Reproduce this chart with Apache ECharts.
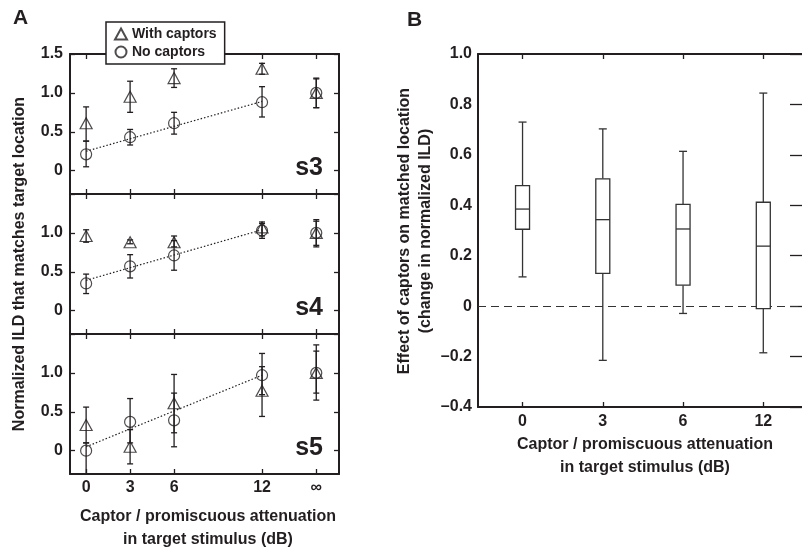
<!DOCTYPE html>
<html>
<head>
<meta charset="utf-8">
<script src="https://cdn.jsdelivr.net/npm/echarts@6/dist/echarts.min.js"></script>
<style>
  html, body { margin: 0; padding: 0; background: #fff; }
  #main { width: 802px; height: 550px; }
</style>
</head>
<body>
<div id="main"></div>
<script>
// panel A: attenuation (dB), infinity is drawn at 15.7
const attenValues = [0, 3, 6, 12, 15.7]
const attenLabels = ['0', '3', '6', '12', '∞']
const ildTicks = [0, 0.5, 1, 1.5]

// [mean, low, high] per attenuation
const s3With = [[0.61, 0.38, 0.82], [0.95, 0.75, 1.15], [1.19, 1.07, 1.31], [1.31, 1.24, 1.38], [1.0, 0.81, 1.19]]
const s3No = [[0.21, 0.05, 0.38], [0.43, 0.33, 0.53], [0.61, 0.47, 0.75], [0.88, 0.69, 1.08], [1.0, 0.81, 1.18]]
const s3Fit = [0.25, 0.89]

const s4With = [[0.96, 0.88, 1.04], [0.88, 0.86, 0.91], [0.88, 0.82, 0.96], [1.07, 0.96, 1.14], [1.0, 0.82, 1.17]]
const s4No = [[0.35, 0.22, 0.47], [0.57, 0.42, 0.72], [0.71, 0.52, 0.9], [1.03, 0.93, 1.12], [1.0, 0.84, 1.15]]
const s4Fit = [0.39, 1.04]

const s5With = [[0.33, 0.1, 0.56], [0.05, -0.17, 0.27], [0.61, 0.23, 0.98], [0.77, 0.44, 1.08], [1.0, 0.74, 1.28]]
const s5No = [[0.0, -0.4, 0.1], [0.37, 0.1, 0.67], [0.39, 0.05, 0.74], [0.97, 0.72, 1.25], [1.0, 0.65, 1.36]]
const s5Fit = [0.05, 0.97]

const fitX = [0, 12]

// panel B: [low whisker, q1, median, q3, high whisker]
const boxCats = ['0', '3', '6', '12']
const boxStats = [
  [0.116, 0.305, 0.385, 0.478, 0.73],
  [-0.215, 0.13, 0.343, 0.505, 0.703],
  [-0.029, 0.083, 0.306, 0.404, 0.614],
  [-0.185, -0.01, 0.238, 0.412, 0.845]
]
const effectTicks = [-0.4, -0.2, 0, 0.2, 0.4, 0.6, 0.8, 1.0]

const ink = '#231f20'
const fontFam = '"Liberation Sans", Arial, Helvetica, sans-serif'
const lbl = { color: ink, fontSize: 16, fontWeight: 'bold', fontFamily: fontFam }

const chart = echarts.init(document.getElementById('main'))

const subjects = [
  { name: 's3', w: s3With, n: s3No, fit: s3Fit, top: 54 },
  { name: 's4', w: s4With, n: s4No, fit: s4Fit, top: 194 },
  { name: 's5', w: s5With, n: s5No, fit: s5Fit, top: 334 }
]

const grids = []
const xAxes = []
const yAxes = []
const series = []
const axLine = { show: true, onZero: false, lineStyle: { color: ink, width: 2 } }
const tick = (vals) => ({ show: true, inside: true, length: 5, customValues: vals, lineStyle: { color: ink, width: 1.3 } })

function errRender(params, api) {
  const x = api.value(0)
  const lo = api.coord([x, api.value(2)])
  const hi = api.coord([x, api.value(3)])
  const cap = 3
  const st = { stroke: ink, lineWidth: 1.3 }
  return {
    type: 'group',
    children: [
      { type: 'line', shape: { x1: lo[0], y1: lo[1], x2: hi[0], y2: hi[1] }, style: st },
      { type: 'line', shape: { x1: lo[0] - cap, y1: lo[1], x2: lo[0] + cap, y2: lo[1] }, style: st },
      { type: 'line', shape: { x1: hi[0] - cap, y1: hi[1], x2: hi[0] + cap, y2: hi[1] }, style: st }
    ]
  }
}

subjects.forEach((s, i) => {
  const last = i === subjects.length - 1
  grids.push({ left: 70, top: s.top, width: 269, height: 140, outerBoundsMode: 'none' })
  xAxes.push({
    type: 'value', gridIndex: i, position: 'bottom', min: -1.1, max: 17.25,
    axisLine: axLine, axisTick: tick(attenValues), splitLine: { show: false },
    axisLabel: {
      show: last, customValues: attenValues, margin: 6, ...lbl,
      formatter: (v) => attenLabels[attenValues.indexOf(v)]
    }
  })
  xAxes.push({
    type: 'value', gridIndex: i, position: 'top', min: -1.1, max: 17.25,
    axisLine: axLine, axisTick: tick(attenValues), axisLabel: { show: false }, splitLine: { show: false }
  })
  yAxes.push({
    type: 'value', gridIndex: i, position: 'left', min: -0.3, max: 1.5,
    axisLine: axLine, axisTick: tick(ildTicks), splitLine: { show: false },
    axisLabel: {
      customValues: i === 0 ? ildTicks : ildTicks.slice(0, 3), margin: 7, ...lbl,
      formatter: (v) => (v === 0 ? '0' : v.toFixed(1))
    }
  })
  yAxes.push({
    type: 'value', gridIndex: i, position: 'right', min: -0.3, max: 1.5,
    axisLine: axLine, axisTick: tick(ildTicks), axisLabel: { show: false }, splitLine: { show: false }
  })

  series.push({
    type: 'line', xAxisIndex: 2 * i, yAxisIndex: 2 * i, silent: true,
    data: fitX.map((x, k) => [x, s.fit[k]]), symbol: 'none',
    lineStyle: { color: ink, width: 1.2, type: [1.5, 2] }
  })
  ;[s.w, s.n].forEach((arr) => {
    series.push({
      type: 'custom', xAxisIndex: 2 * i, yAxisIndex: 2 * i, clip: true, silent: true,
      renderItem: errRender,
      data: arr.map((d, k) => [attenValues[k], d[0], d[1], d[2]])
    })
  })
  series.push({
    name: 'With captors', type: 'scatter', xAxisIndex: 2 * i, yAxisIndex: 2 * i,
    symbol: 'triangle', symbolSize: [12, 11],
    itemStyle: { color: 'rgba(0,0,0,0)', borderColor: ink, borderWidth: 1.2 },
    data: s.w.map((d, k) => [attenValues[k], d[0]])
  })
  series.push({
    name: 'No captors', type: 'scatter', xAxisIndex: 2 * i, yAxisIndex: 2 * i,
    symbol: 'circle', symbolSize: 11,
    itemStyle: { color: 'rgba(0,0,0,0)', borderColor: ink, borderWidth: 1.2 },
    data: s.n.map((d, k) => [attenValues[k], d[0]])
  })
})

// panel B
const gb = grids.length
grids.push({ left: 478, top: 54, width: 330, height: 353, outerBoundsMode: 'none' })
const boxIdx = boxCats.map((c, i) => i)
xAxes.push({
  type: 'value', gridIndex: gb, position: 'bottom', min: -0.555, max: 3.557,
  axisLine: axLine, axisTick: tick(boxIdx), splitLine: { show: false },
  axisLabel: { customValues: boxIdx, margin: 7, ...lbl, formatter: (v) => boxCats[v] }
})
xAxes.push({
  type: 'value', gridIndex: gb, position: 'top', min: -0.555, max: 3.557,
  axisLine: axLine, axisTick: tick(boxIdx), axisLabel: { show: false }, splitLine: { show: false }
})
yAxes.push({
  type: 'value', gridIndex: gb, position: 'left', min: -0.4, max: 1.0,
  axisLine: axLine, axisTick: { show: false }, splitLine: { show: false },
  axisLabel: {
    customValues: effectTicks, margin: 6, ...lbl,
    formatter: (v) => (v === 0 ? '0' : (v < 0 ? '\u2013' + Math.abs(v).toFixed(1) : v.toFixed(1)))
  }
})
yAxes.push({
  type: 'value', gridIndex: gb, position: 'right', min: -0.4, max: 1.0,
  axisLine: axLine, axisTick: { ...tick(effectTicks), length: 18 }, axisLabel: { show: false }, splitLine: { show: false }
})

series.push({
  type: 'custom', xAxisIndex: 2 * gb, yAxisIndex: 2 * gb, silent: true,
  data: boxStats.map((d, i) => [i, ...d]),
  renderItem: (params, api) => {
    const x = api.value(0)
    const p = [1, 2, 3, 4, 5].map((k) => api.coord([x, api.value(k)]))
    const cx = p[0][0]
    const hw = 7, cw = 4
    const st = { stroke: '#333', lineWidth: 1.3, fill: 'none' }
    return {
      type: 'group',
      children: [
        { type: 'line', shape: { x1: cx, y1: p[0][1], x2: cx, y2: p[1][1] }, style: st },
        { type: 'line', shape: { x1: cx, y1: p[3][1], x2: cx, y2: p[4][1] }, style: st },
        { type: 'line', shape: { x1: cx - cw, y1: p[0][1], x2: cx + cw, y2: p[0][1] }, style: st },
        { type: 'line', shape: { x1: cx - cw, y1: p[4][1], x2: cx + cw, y2: p[4][1] }, style: st },
        { type: 'rect', shape: { x: cx - hw, y: p[3][1], width: 2 * hw, height: p[1][1] - p[3][1] }, style: { ...st, fill: '#fff' } },
        { type: 'line', shape: { x1: cx - hw, y1: p[2][1], x2: cx + hw, y2: p[2][1] }, style: st }
      ]
    }
  },
  markLine: {
    silent: true, symbol: 'none', label: { show: false }, z: 1,
    lineStyle: { color: '#333', width: 1.2, type: [8, 5] },
    data: [{ yAxis: 0 }]
  }
})

const txt = (text, x, y, extra) => ({
  type: 'text', x: x, y: y, z: 100,
  style: { text: text, fill: ink, font: 'bold 16px ' + fontFam, align: 'center', verticalAlign: 'middle', ...extra }
})

chart.setOption({
  animation: false,
  grid: grids,
  xAxis: xAxes,
  yAxis: yAxes,
  legend: {
    left: 106, top: 22, orient: 'vertical', itemGap: 4, itemWidth: 12, itemHeight: 11,
    padding: [5, 8, 5, 8], backgroundColor: '#fff', borderColor: ink, borderWidth: 1.5,
    data: ['With captors', 'No captors'],
    textStyle: { ...lbl, fontSize: 14 }
  },
  graphic: [
    txt('A', 13, 18, { font: 'bold 21px ' + fontFam, align: 'left' }),
    txt('B', 407, 20, { font: 'bold 21px ' + fontFam, align: 'left' }),
    txt('s3', 323, 168, { font: 'bold 25px ' + fontFam, align: 'right' }),
    txt('s4', 323, 308, { font: 'bold 25px ' + fontFam, align: 'right' }),
    txt('s5', 323, 448, { font: 'bold 25px ' + fontFam, align: 'right' }),
    { ...txt('Normalized ILD that matches target location', 20, 264), rotation: Math.PI / 2 },
    txt('Captor / promiscuous attenuation', 208, 517),
    txt('in target stimulus (dB)', 208, 540),
    { ...txt('Effect of captors on matched location', 405, 231), rotation: Math.PI / 2 },
    { ...txt('(change in normalized ILD)', 426, 231), rotation: Math.PI / 2 },
    txt('Captor / promiscuous attenuation', 645, 445),
    txt('in target stimulus (dB)', 645, 468)
  ],
  series: series
})

window.addEventListener('resize', () => {
  chart.resize()
})
</script>
</body>
</html>
